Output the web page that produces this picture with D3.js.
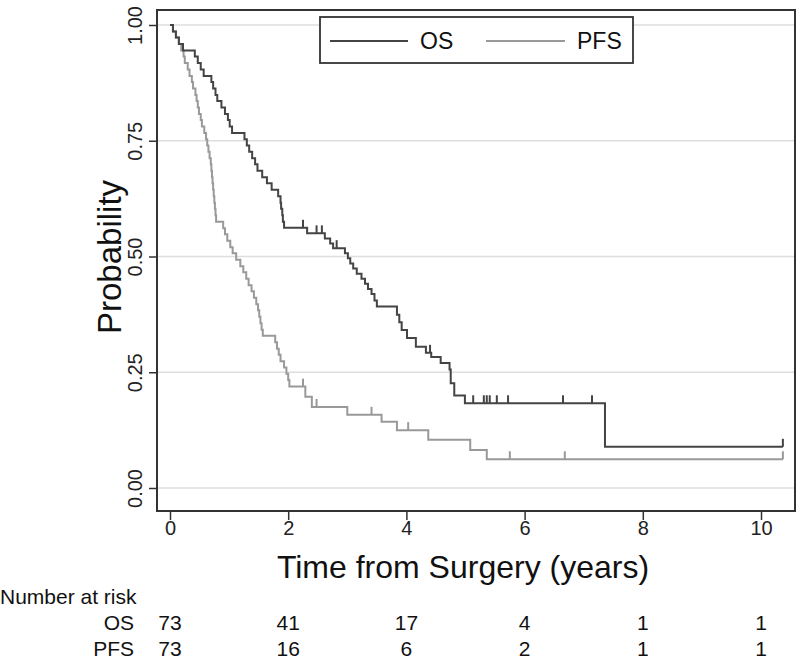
<!DOCTYPE html>
<html><head><meta charset="utf-8">
<script src="https://cdn.jsdelivr.net/npm/d3@7"></script>
<style>body{margin:0;background:#fff;} svg{display:block;font-family:"Liberation Sans",Arial,Helvetica,sans-serif;}</style>
</head><body><svg id="c" width="800" height="663"></svg>
<script>
// ---- data ----
const osTimes = [0.05,0.10,0.15,0.22,0.42,0.47,0.52,0.57,0.70,0.73,0.77,0.80,0.87,0.93,0.98,1.01,1.05,1.26,1.30,1.34,1.39,1.44,1.48,1.56,1.64,1.72,1.83,1.87,1.88,1.90,1.91,1.93,2.32,2.62,2.71,2.76,2.96,3.01,3.05,3.10,3.16,3.24,3.30,3.35,3.41,3.46,3.50,3.84,3.88,3.92,4.01,4.16,4.33,4.42,4.58,4.73,4.75,4.81,4.99,7.36];
const osSurv  = [0.986,0.973,0.959,0.945,0.932,0.918,0.904,0.890,0.877,0.863,0.849,0.836,0.822,0.808,0.795,0.781,0.767,0.753,0.740,0.726,0.712,0.699,0.685,0.671,0.658,0.644,0.630,0.616,0.603,0.589,0.575,0.562,0.550,0.539,0.528,0.518,0.507,0.496,0.485,0.474,0.463,0.452,0.441,0.430,0.419,0.405,0.392,0.374,0.358,0.341,0.324,0.305,0.292,0.283,0.270,0.256,0.226,0.200,0.183,0.089];
const osCensor = [2.25,2.48,2.57,2.82,4.01,4.40,5.13,5.31,5.36,5.41,5.53,5.72,6.65,7.14,10.37];
const osEnd = 10.37;

const pfsTimes = [0.05,0.10,0.15,0.19,0.23,0.25,0.30,0.33,0.37,0.39,0.43,0.45,0.47,0.49,0.52,0.54,0.58,0.61,0.63,0.65,0.67,0.69,0.70,0.71,0.72,0.73,0.74,0.75,0.76,0.77,0.78,0.90,0.93,0.97,1.02,1.06,1.12,1.19,1.24,1.29,1.33,1.38,1.42,1.46,1.49,1.51,1.53,1.55,1.57,1.78,1.81,1.84,1.87,1.93,1.97,2.00,2.02,2.29,2.40,3.00,3.58,3.84,4.37,5.08,5.36];
const pfsSurv  = [0.986,0.973,0.959,0.945,0.932,0.918,0.904,0.890,0.877,0.863,0.849,0.836,0.822,0.808,0.795,0.781,0.767,0.753,0.740,0.726,0.712,0.699,0.685,0.671,0.658,0.644,0.630,0.616,0.603,0.589,0.575,0.561,0.548,0.534,0.520,0.507,0.493,0.479,0.466,0.452,0.438,0.425,0.411,0.397,0.384,0.370,0.356,0.342,0.329,0.315,0.301,0.288,0.274,0.260,0.247,0.233,0.219,0.197,0.175,0.158,0.143,0.125,0.104,0.082,0.062];
const pfsCensor = [2.25,2.48,3.41,4.03,5.75,6.68,10.37];
const pfsEnd = 10.37;

const xTicks = [0,2,4,6,8,10];
const yTicks = [0,0.25,0.5,0.75,1];
const riskLabels = ["OS","PFS"];
const riskOS  = [73,41,17,4,1,1];
const riskPFS = [73,16,6,2,1,1];

// ---- chart ----
const svg = d3.select("#c");
const x = d3.scaleLinear().domain([0,10]).range([170,761]);
const y = d3.scaleLinear().domain([0,1]).range([488,25]);
const frame = {l:157,t:10,r:795,b:511};
const OSC = "#444444", PFSC = "#999999";
const FF = "'Liberation Sans',Arial,sans-serif";

// gridlines
svg.append("g").selectAll("line").data(yTicks).join("line")
  .attr("x1",frame.l).attr("x2",frame.r).attr("y1",d=>y(d)).attr("y2",d=>y(d))
  .attr("stroke","#dedede").attr("stroke-width",1.5);

// frame
svg.append("rect").attr("x",frame.l).attr("y",frame.t).attr("width",frame.r-frame.l).attr("height",frame.b-frame.t)
  .attr("fill","none").attr("stroke","#333").attr("stroke-width",2);

// y axis
const yAxis = d3.axisLeft(y).tickValues(yTicks).tickSize(8).tickFormat(d3.format(".2f"));
const gy = svg.append("g").attr("transform",`translate(${frame.l},0)`).call(yAxis);
gy.select(".domain").remove();
gy.selectAll(".tick line").attr("stroke","#333").attr("stroke-width",1.5);
gy.selectAll(".tick text").attr("x",0).attr("dy",0).attr("text-anchor","middle")
  .attr("transform","translate(-15,0) rotate(-90)").attr("font-size",20).attr("fill","#222")
  .style("font-family",FF);

// x axis
const xAxis = d3.axisBottom(x).tickValues(xTicks).tickSize(9).tickFormat(d3.format("d"));
const gx = svg.append("g").attr("transform",`translate(0,${frame.b})`).call(xAxis);
gx.select(".domain").remove();
gx.selectAll(".tick line").attr("stroke","#333").attr("stroke-width",1.5);
gx.selectAll(".tick text").attr("y",24).attr("dy",0).attr("font-size",20).attr("fill","#222")
  .style("font-family",FF);

// axis titles
svg.append("text").attr("transform","translate(121,257) rotate(-90)").attr("text-anchor","middle")
  .attr("font-size",33).attr("fill","#111").text("Probability");
svg.append("text").attr("x",463).attr("y",578).attr("text-anchor","middle")
  .attr("font-size",32).attr("fill","#111").text("Time from Surgery (years)");

// KM curves
function kmPoints(times, surv, end){
  const pts = [[0,1]];
  times.forEach((t,i)=>pts.push([t,surv[i]]));
  pts.push([end, surv[surv.length-1]]);
  return pts;
}
function sAt(times, surv, t){
  let s = 1;
  for(let i=0;i<times.length;i++){ if(times[i]<=t) s = surv[i]; }
  return s;
}
const line = d3.line().x(d=>x(d[0])).y(d=>y(d[1])).curve(d3.curveStepAfter);
const series = [
  {times:pfsTimes,surv:pfsSurv,cens:pfsCensor,end:pfsEnd,color:PFSC},
  {times:osTimes,surv:osSurv,cens:osCensor,end:osEnd,color:OSC}
];
series.forEach(s=>{
  svg.append("path").datum(kmPoints(s.times,s.surv,s.end)).attr("d",line)
    .attr("fill","none").attr("stroke",s.color).attr("stroke-width",2);
  svg.append("g").selectAll("line").data(s.cens).join("line")
    .attr("x1",d=>x(d)).attr("x2",d=>x(d))
    .attr("y1",d=>y(sAt(s.times,s.surv,d))).attr("y2",d=>y(sAt(s.times,s.surv,d))-8)
    .attr("stroke",s.color).attr("stroke-width",2);
});

// legend
const lg = svg.append("g");
lg.append("rect").attr("x",320).attr("y",17).attr("width",313).attr("height",46)
  .attr("fill","#fff").attr("stroke","#333").attr("stroke-width",1.8);
lg.append("line").attr("x1",330).attr("x2",408).attr("y1",41).attr("y2",41).attr("stroke",OSC).attr("stroke-width",2);
lg.append("text").attr("x",420).attr("y",49).attr("font-size",23).attr("fill","#111").text("OS");
lg.append("line").attr("x1",486).attr("x2",565).attr("y1",41).attr("y2",41).attr("stroke",PFSC).attr("stroke-width",2);
lg.append("text").attr("x",577).attr("y",49).attr("font-size",23).attr("fill","#111").text("PFS");

// risk table
svg.append("text").attr("x",0).attr("y",604).attr("font-size",21).attr("fill","#111").text("Number at risk");
const rows = [riskOS, riskPFS];
rows.forEach((r,i)=>{
  const yy = 630 + i*26;
  svg.append("text").attr("x",134).attr("y",yy).attr("text-anchor","end").attr("font-size",21).attr("fill","#111").text(riskLabels[i]);
  svg.append("g").selectAll("text").data(r).join("text")
    .attr("x",(d,j)=>x(xTicks[j])).attr("y",yy).attr("text-anchor","middle")
    .attr("font-size",21).attr("fill","#111").text(d=>d);
});
</script></body></html>
